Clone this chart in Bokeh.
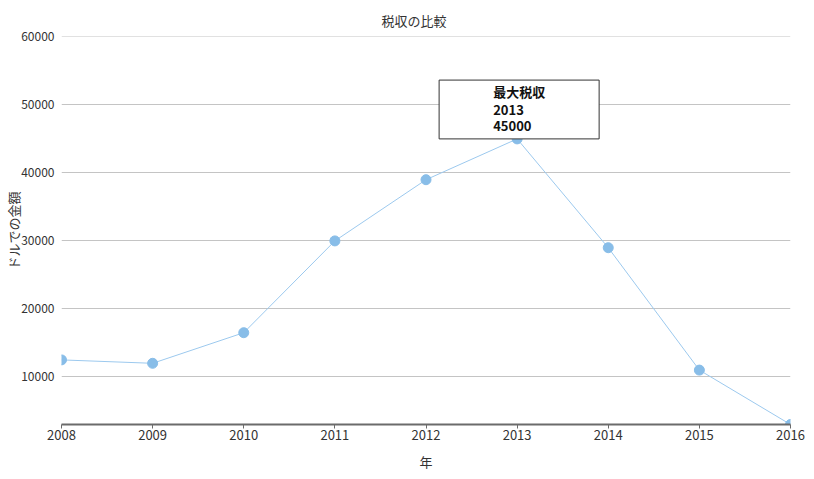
from bokeh.plotting import figure
from bokeh.models import FixedTicker, BoxAnnotation, Label, ColumnDataSource, Range1d
from bokeh.embed import file_html
from bokeh.resources import INLINE

years = [2008, 2009, 2010, 2011, 2012, 2013, 2014, 2015, 2016]
revenue = [12500, 12000, 16500, 30000, 39000, 45000, 29000, 11000, 3000]
y_ticks = [10000, 20000, 30000, 40000, 50000, 60000]
title_text = "税収の比較"
x_label = "年"
y_label = "ドルでの金額"
note_title = "最大税収"

FONT = "Noto Sans CJK JP"
LINE_COLOR = "#9cc9ee"
DOT_COLOR = "#88bde8"
TXT = "#333333"

p = figure(width=814, height=479, output_backend="svg", toolbar_location=None,
           x_range=Range1d(min(years), max(years)),
           y_range=Range1d(min(revenue), max(y_ticks) + 60),
           min_border_left=61, min_border_right=24, min_border_top=36, min_border_bottom=55)

p.title.text = title_text
p.title.align = "left"
p.title.offset = 320
p.title.standoff = 14
p.title.text_font = FONT
p.title.text_font_size = "13px"
p.title.text_font_style = "normal"
p.title.text_color = TXT

src = ColumnDataSource(dict(x=years, y=revenue))
p.line("x", "y", source=src, line_color=LINE_COLOR, line_width=1)
p.scatter("x", "y", source=src, size=10, fill_color=DOT_COLOR, line_color=DOT_COLOR)

# axes
p.xaxis.ticker = FixedTicker(ticks=years)
p.yaxis.ticker = FixedTicker(ticks=y_ticks)
p.xaxis.axis_label = x_label
p.yaxis.axis_label = y_label
for ax in (p.xaxis, p.yaxis):
    ax.major_label_text_font = FONT
    ax.major_label_text_font_size = "13px"
    ax.major_label_text_color = TXT
    ax.axis_label_text_font = FONT
    ax.axis_label_text_font_size = "13px"
    ax.axis_label_text_font_style = "normal"
    ax.axis_label_text_color = TXT
    ax.minor_tick_line_color = None

p.xaxis.axis_line_color = "#6b6b6b"
p.xaxis.axis_line_width = 2
p.xaxis.major_tick_line_color = "#6b6b6b"
p.xaxis.major_tick_in = 0
p.xaxis.major_tick_out = 4
p.xaxis.major_label_standoff = 1
p.xaxis.axis_label_standoff = 9

p.yaxis.major_label_text_font_size = "12px"
p.yaxis.axis_line_color = None
p.yaxis.major_tick_line_color = None
p.yaxis.major_tick_out = 0
p.yaxis.major_label_standoff = 7
p.yaxis.axis_label_standoff = -5

p.xgrid.grid_line_color = None
p.ygrid.grid_line_color = "#c4c4c4"
p.ygrid.grid_line_width = 1
p.outline_line_color = None

# annotation box around the maximum
i_max = revenue.index(max(revenue))
mx, my = years[i_max], revenue[i_max]
p.add_layout(BoxAnnotation(left=mx - 0.856, right=mx + 0.9, bottom=my, top=my + 8650,
                           fill_color="white", fill_alpha=1.0,
                           line_color="#333333", line_alpha=1.0, line_width=1, level="overlay"))
for txt, dy in [(note_title, 47), (str(mx), 29), (str(my), 13)]:
    p.add_layout(Label(x=mx, y=my, x_offset=-24, y_offset=dy, text=txt,
                       text_font=FONT, text_font_size="13px", text_font_style="bold",
                       text_color="#111111", text_align="left", text_baseline="middle",
                       level="overlay"))

open("out.html", "w").write(file_html(p, INLINE))
